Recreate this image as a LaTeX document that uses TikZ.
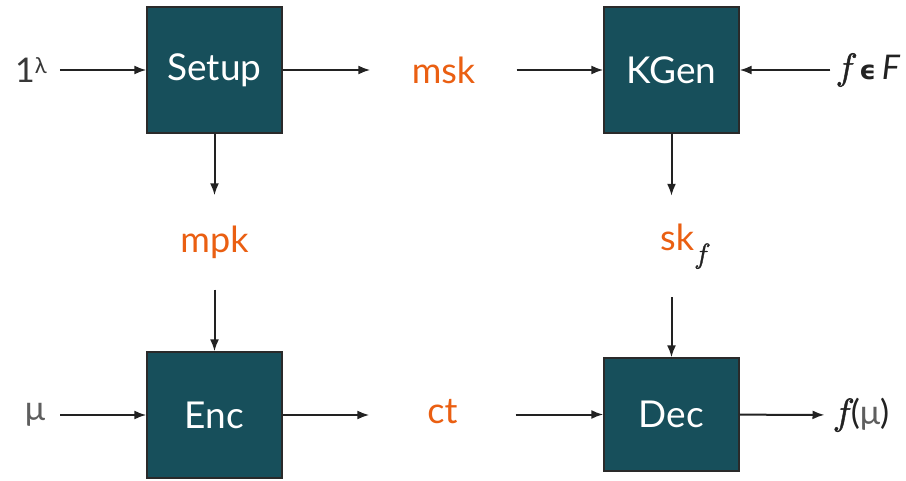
\documentclass[tikz,border=0pt]{standalone}
\usepackage{fontspec}
\setmainfont{Lato}
\newfontfamily\symfont{DejaVu Sans}
\newfontfamily\mathfnt{Latin Modern Math}[FakeBold=1.2]
\usetikzlibrary{arrows.meta}
\definecolor{boxfill}{HTML}{174F5B}
\definecolor{boxline}{HTML}{2A2A2A}
\definecolor{keyorange}{HTML}{EA5F12}
\definecolor{inktext}{HTML}{222222}
\definecolor{greyink}{HTML}{5E5E5E}
\newcommand{\fn}{{\mathfnt 𝑓}}
\tikzset{
  algbox/.style={draw=boxline, line width=1.3pt, fill=boxfill, text=white,
    minimum width=135pt, minimum height=126pt, inner sep=0pt,
    font=\fontsize{37}{42}\selectfont},
  keylabel/.style={text=keyorange, minimum width=146pt, minimum height=94pt,
    inner sep=0pt, font=\fontsize{36}{40}\selectfont},
  inlabel/.style={text=inktext, inner ysep=0pt, font=\fontsize{34}{40}\selectfont},
  arr/.style={draw=inktext, line width=2pt, -{Latex[length=12pt,width=9pt]}},
}
\begin{document}
\begin{tikzpicture}[x=1pt,y=-1pt]
  \useasboundingbox (0,0) rectangle (906,481);

  % algorithm boxes
  \node[algbox] (setup) at (214.5,70) {Setup};
  \node[algbox] (kgen)  at (671.5,70) {KGen};
  \node[algbox] (enc)   at (214.5,415) {Enc};
  \node[algbox, minimum height=113pt] (dec) at (671.5,414.5) {Dec};

  % keys and ciphertext
  \node[keylabel] (msk) at (443.5,70) {msk};
  \node[keylabel] (mpk) at (214.5,242.5) {mpk};
  \node[keylabel, minimum height=101pt] (skf) at (684,246.5)
    {sk\raisebox{-0.35em}{\textcolor{inktext}{\fontsize{28}{30}\selectfont\fn}}};
  \node[keylabel] (ct)  at (442.5,412) {ct};

  % external inputs and output
  \node[inlabel, inner xsep=13pt, text=inktext!90] (sec) at (31,70)
    {1\raisebox{0.55ex}{\fontsize{22}{24}\selectfont λ}};
  \node[inlabel, inner xsep=15pt, text=greyink] (msg) at (35,415) {μ};
  \node[inlabel, inner xsep=5pt] (fun) at (868,70)
    {{\fontsize{37}{40}\selectfont\fn}\,{\symfont\bfseries\fontsize{26}{28}\selectfont ϵ}\,\textit{F}};
  \node[inlabel, inner xsep=8pt] (out) at (861,415)
    {{\fontsize{37}{40}\selectfont\fn}(\textcolor{greyink}{μ})};

  % connectors
  \draw[arr] (sec) -- (setup);
  \draw[arr] (setup) -- (msk);
  \draw[arr] (msk) -- (kgen);
  \draw[arr] (fun) -- (kgen);
  \draw[arr] (setup) -- (mpk);
  \draw[arr] (mpk) -- (enc);
  \draw[arr] (kgen.south) -- (kgen.south |- skf.north);
  \draw[arr] (kgen.south |- skf.south) -- (dec.north);
  \draw[arr] (msg) -- (enc);
  \draw[arr] (enc.east) -- (ct.west |- enc.east);
  \draw[arr] (ct.east |- dec.west) -- (dec.west);
  \draw[arr] (dec) -- (out);
\end{tikzpicture}
\end{document}
